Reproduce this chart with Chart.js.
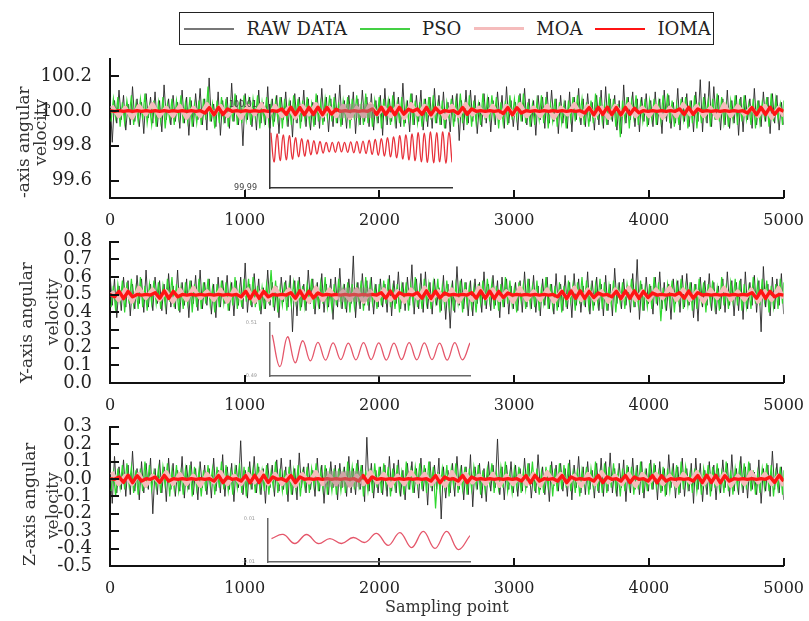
<!DOCTYPE html>
<html>
<head>
<meta charset="utf-8">
<script src="https://cdn.jsdelivr.net/npm/chart.js@4.4.1/dist/chart.umd.min.js"></script>
<style>
  body { margin: 0; background: #fff; width: 809px; height: 621px; position: relative; overflow: hidden; }
  canvas { position: absolute; }
  #legend {
    position: absolute; left: 179px; top: 12px; width: 535px; height: 33px;
    box-sizing: border-box; border: 1.5px solid #222; display: flex; align-items: center;
    padding-left: 4px; font: 18px "DejaVu Serif", serif; color: #222; white-space: nowrap;
  }
  #legend .swatch { display: inline-block; width: 50px; margin-right: 12.5px; flex: none; }
  #legend .name { margin-right: 12.5px; }
</style>
</head>
<body>
<div id="legend"></div>
<canvas id="p1" width="809" height="190" style="left:0;top:38px"></canvas>
<canvas id="p2" width="809" height="192" style="left:0;top:221px"></canvas>
<canvas id="p3" width="809" height="215" style="left:0;top:406px"></canvas>
<canvas id="i1" width="244" height="103" style="left:210px;top:95px"></canvas>
<canvas id="i2" width="262" height="69" style="left:210px;top:315px"></canvas>
<canvas id="i3" width="264" height="59" style="left:208px;top:511px"></canvas>
<script>
// Series names and tick labels
const seriesNames = ['RAW DATA', 'PSO', 'MOA', 'IOMA'];
const xTicks = [0, 1000, 2000, 3000, 4000, 5000];
const yTicks1 = [99.6, 99.8, 100.0, 100.2];
const yTicks2 = [0.0, 0.1, 0.2, 0.3, 0.4, 0.5, 0.6, 0.7, 0.8];
const yTicks3 = [-0.5, -0.4, -0.3, -0.2, -0.1, 0.0, 0.1, 0.2, 0.3];
const sampleMax = 5000;

// X-axis angular velocity
const raw1 = [
  100.08,99.82,100.06,99.93,100.12,99.95,100.09,99.89,100.04,99.92,100.14,99.94,100.07,99.91,100.05,99.87,100.10,99.96,100.08,99.93,
  100.11,99.91,100.06,99.88,100.15,99.95,100.07,99.92,100.09,99.94,100.05,99.90,100.12,99.93,100.08,99.86,100.06,99.91,100.10,99.95,
  100.13,99.92,100.07,99.89,100.19,99.94,100.04,99.91,100.11,99.86,100.06,99.93,100.08,99.90,100.16,99.94,100.09,99.92,100.07,99.80,
  100.10,99.95,100.08,99.91,100.06,99.89,100.12,99.93,100.05,99.92,100.14,99.90,100.07,99.94,100.09,99.87,100.08,99.95,100.11,99.91,
  100.06,99.85,100.10,99.93,100.08,99.94,100.12,99.91,100.07,99.89,100.05,99.92,100.09,99.90,100.13,99.94,100.08,99.88,100.07,99.91,
  100.10,99.93,100.15,99.92,100.06,99.90,100.09,99.95,100.11,99.87,100.07,99.92,100.12,99.94,100.08,99.91,100.10,99.89,100.06,99.93,
  100.09,99.86,100.13,99.92,100.07,99.94,100.11,99.90,100.08,99.91,100.16,99.93,100.06,99.88,100.10,99.92,100.09,99.94,100.12,99.89,
  100.07,99.91,100.08,99.90,100.13,99.93,100.09,99.92,100.11,99.90,100.05,99.88,100.09,99.94,100.10,99.83,100.06,99.89,100.12,99.93,
  100.12,99.94,100.09,99.87,100.05,99.91,100.10,99.93,100.08,99.88,100.06,99.92,100.11,99.95,100.09,99.90,100.14,99.93,100.06,99.91,
  100.05,99.89,100.10,99.94,100.13,99.92,100.07,99.91,100.06,99.86,100.09,99.95,100.08,99.90,100.11,99.93,100.12,99.94,100.07,99.87,
  100.09,99.93,100.06,99.90,100.11,99.88,100.08,99.95,100.13,99.92,100.07,99.91,100.10,99.94,100.05,99.89,100.09,99.92,100.12,99.90,
  100.14,99.92,100.07,99.94,100.09,99.89,100.06,99.87,100.15,99.93,100.08,99.95,100.11,99.91,100.07,99.88,100.08,99.94,100.10,99.92,
  100.06,99.91,100.11,99.92,100.07,99.87,100.12,99.94,100.09,99.90,100.05,99.93,100.13,99.89,100.08,99.94,100.10,99.91,100.06,99.88,
  100.11,99.94,100.18,99.88,100.10,99.93,100.17,99.91,100.14,99.95,100.09,99.89,100.07,99.92,100.12,99.90,100.06,99.93,100.09,99.86,
  100.08,99.88,100.09,99.95,100.07,99.90,100.13,99.92,100.06,99.91,100.11,99.94,100.08,99.87,100.10,99.93,100.09,99.89,100.05,99.92
];
const pso1 = [
  99.94,100.07,99.96,100.08,99.91,100.05,99.93,100.06,99.97,100.09,99.92,100.04,99.94,100.07,99.95,100.10,99.93,100.03,99.92,100.06,
  99.91,100.05,99.94,100.08,99.90,100.04,99.95,100.07,99.92,100.06,99.96,100.09,99.93,100.05,99.94,100.08,99.91,100.04,99.93,100.06,
  99.92,100.07,99.95,100.14,99.94,100.04,99.90,100.06,99.93,100.08,99.95,100.07,99.91,100.05,99.94,100.10,99.92,100.04,99.93,100.09,
  99.95,100.06,99.92,100.07,99.96,100.09,99.90,100.05,99.94,100.08,99.93,100.04,99.91,100.06,99.95,100.08,99.90,100.07,99.94,100.05,
  99.92,100.09,99.96,100.07,99.90,100.06,99.95,100.08,99.93,100.04,99.91,100.10,99.94,100.05,99.92,100.07,99.96,100.09,99.94,100.08,
  99.93,100.05,99.91,100.06,99.96,100.08,99.90,100.07,99.95,100.09,99.94,100.04,99.92,100.10,99.93,100.05,99.91,100.06,99.95,100.08,
  99.90,100.07,99.96,100.06,99.92,100.09,99.94,100.05,99.93,100.08,99.91,100.04,99.95,100.10,99.92,100.06,99.93,100.05,99.91,100.07,
  99.94,100.08,99.95,100.09,99.93,100.04,99.92,100.06,99.90,100.05,99.96,100.07,99.91,100.06,99.95,100.10,99.93,100.04,99.92,100.09,
  99.91,100.06,99.93,100.04,99.92,100.10,99.95,100.07,99.94,100.09,99.96,100.08,99.90,100.05,99.93,100.06,99.92,100.09,99.95,100.07,
  99.96,100.09,99.94,100.10,99.93,100.05,99.91,100.04,99.92,100.06,99.95,100.09,99.93,100.08,99.90,100.04,99.94,100.07,99.91,100.05,
  99.93,100.04,99.90,100.06,99.95,100.08,99.94,100.09,99.96,100.07,99.92,100.05,99.91,100.06,99.93,100.10,99.95,100.08,99.94,100.04,
  99.92,100.10,99.95,100.07,99.91,100.04,99.85,100.06,99.95,100.08,99.90,100.06,99.96,100.09,99.92,100.05,99.94,100.07,99.91,100.06,
  99.95,100.07,99.92,100.05,99.94,100.09,99.96,100.10,99.93,100.06,99.91,100.04,99.92,100.07,99.95,100.08,99.90,100.06,99.93,100.09,
  99.90,100.05,99.93,100.08,99.96,100.06,99.91,100.07,99.95,100.10,99.94,100.08,99.93,100.04,99.91,100.06,99.95,100.09,99.92,100.07,
  99.94,100.09,99.95,100.04,99.92,100.07,99.90,100.06,99.93,100.05,99.96,100.08,99.91,100.10,99.94,100.07,99.95,100.04,99.92,100.06
];
const moa1 = [
  100.03,99.97,100.02,99.96,100.03,99.98,100.04,99.97,100.02,99.97,100.03,99.96,100.02,99.97,100.04,99.98,100.03,99.97,100.02,99.96,
  100.03,99.98,100.04,99.97,100.03,99.97,100.02,99.96,100.03,99.98,100.04,99.97,100.02,99.97,100.03,99.96,100.02,99.97,100.04,99.98,
  100.02,99.97,100.03,99.96,100.04,99.98,100.03,99.97,100.02,99.96,100.03,99.97,100.04,99.98,100.02,99.97,100.03,99.96,100.03,99.98,
  100.04,99.97,100.02,99.97,100.03,99.96,100.02,99.98,100.04,99.97,100.03,99.97,100.02,99.96,100.03,99.98,100.04,99.97,100.02,99.97,
  100.03,99.96,100.02,99.97,100.04,99.98,100.03,99.97,100.02,99.96,100.04,99.97,100.03,99.98,100.02,99.97,100.03,99.96,100.02,99.97
];
const ioma1 = [
  100.002,99.998,100.002,99.998,100.002,99.998,100.002,99.998,100.002,99.998,100.002,99.998,100.002,99.998,100.002,99.998,100.002,99.998,100.002,99.998,100.002,
  99.988,100.02,99.978,100.021,99.98,100.012,
  99.998,100.002,99.998,100.002,99.998,100.002,99.998,100.002,99.998,100.002,99.998,
  100.012,99.98,100.022,99.979,100.02,99.978,100.021,99.98,100.022,99.979,100.02,99.982,100.01,
  99.998,100.002,99.998,100.002,99.998,100.002,99.998,
  100.012,99.98,100.022,99.979,100.02,99.978,100.021,99.982,100.01,
  99.998,
  100.012,99.98,100.021,99.978,100.018,99.99,
  100.002,99.998,100.002,
  99.986,100.02,99.981,100.012,
  99.998,100.002,99.998,100.002,99.998,100.002,
  99.986,100.02,99.978,100.019,99.988,
  100.002,99.998,100.002,99.998,100.002,99.998,100.002,99.998,100.002,99.998,100.002,99.998,100.002,
  99.988,100.02,99.978,100.021,99.98,100.022,99.979,100.02,99.978,100.021,99.981,100.016,99.99,
  100.002,99.998,100.002,99.998,100.002,99.998,100.002,99.998,
  100.012,99.98,100.021,99.981,100.012,
  99.998,100.002,99.998,100.002,99.998,100.002,99.998,100.002,99.998,100.002,
  99.988,100.02,99.978,100.021,99.98,100.022,99.981,100.012,
  99.998
];

// Y-axis angular velocity
const raw2 = [
  0.62,0.44,0.59,0.37,0.55,0.41,0.60,0.43,0.58,0.38,0.56,0.42,0.61,0.45,0.59,0.40,0.64,0.43,0.56,0.41,
  0.60,0.45,0.58,0.41,0.56,0.39,0.62,0.43,0.55,0.42,0.64,0.40,0.57,0.44,0.59,0.37,0.58,0.45,0.61,0.41,
  0.64,0.42,0.57,0.44,0.59,0.39,0.56,0.37,0.60,0.43,0.58,0.45,0.61,0.41,0.57,0.38,0.58,0.44,0.60,0.42,
  0.68,0.40,0.56,0.43,0.62,0.45,0.59,0.39,0.54,0.42,0.64,0.44,0.57,0.41,0.55,0.37,0.60,0.46,0.58,0.43,
  0.61,0.29,0.58,0.38,0.60,0.43,0.56,0.41,0.64,0.45,0.59,0.39,0.57,0.42,0.62,0.40,0.56,0.43,0.59,0.36,
  0.60,0.43,0.65,0.42,0.56,0.40,0.59,0.45,0.72,0.37,0.57,0.42,0.62,0.44,0.58,0.41,0.60,0.39,0.56,0.43,
  0.59,0.43,0.56,0.40,0.61,0.38,0.58,0.45,0.63,0.42,0.57,0.41,0.60,0.44,0.67,0.39,0.59,0.42,0.62,0.40,
  0.63,0.42,0.57,0.39,0.59,0.44,0.54,0.41,0.61,0.36,0.56,0.31,0.58,0.40,0.66,0.44,0.59,0.42,0.57,0.38,
  0.58,0.38,0.59,0.45,0.57,0.40,0.63,0.42,0.56,0.41,0.61,0.44,0.58,0.37,0.60,0.43,0.59,0.39,0.55,0.42,
  0.57,0.41,0.58,0.40,0.63,0.43,0.59,0.42,0.61,0.40,0.55,0.38,0.59,0.44,0.60,0.42,0.56,0.39,0.62,0.43,
  0.56,0.41,0.61,0.42,0.57,0.37,0.62,0.44,0.59,0.40,0.55,0.43,0.63,0.39,0.58,0.44,0.60,0.41,0.56,0.38,
  0.61,0.41,0.56,0.38,0.65,0.45,0.57,0.42,0.59,0.44,0.55,0.40,0.62,0.43,0.70,0.36,0.56,0.41,0.60,0.45,
  0.55,0.39,0.60,0.44,0.63,0.42,0.57,0.41,0.56,0.36,0.59,0.45,0.58,0.40,0.61,0.43,0.62,0.44,0.57,0.37,
  0.56,0.35,0.60,0.43,0.58,0.44,0.62,0.41,0.57,0.39,0.55,0.42,0.59,0.40,0.63,0.44,0.58,0.38,0.57,0.41,
  0.59,0.36,0.63,0.42,0.57,0.44,0.61,0.40,0.58,0.29,0.66,0.43,0.56,0.38,0.60,0.42,0.59,0.44,0.62,0.39
];
const pso2 = [
  0.43,0.55,0.41,0.56,0.46,0.58,0.40,0.57,0.45,0.59,0.44,0.54,0.42,0.60,0.43,0.55,0.41,0.56,0.45,0.58,
  0.45,0.57,0.42,0.55,0.44,0.59,0.46,0.60,0.43,0.56,0.41,0.54,0.42,0.57,0.45,0.58,0.40,0.56,0.43,0.59,
  0.42,0.57,0.45,0.59,0.44,0.54,0.40,0.56,0.43,0.58,0.45,0.57,0.41,0.55,0.44,0.60,0.42,0.54,0.43,0.59,
  0.46,0.59,0.44,0.60,0.43,0.55,0.41,0.54,0.42,0.56,0.45,0.64,0.43,0.58,0.40,0.54,0.44,0.57,0.41,0.55,
  0.44,0.57,0.46,0.58,0.41,0.55,0.43,0.56,0.47,0.59,0.42,0.54,0.44,0.57,0.45,0.60,0.43,0.53,0.42,0.56,
  0.44,0.59,0.45,0.54,0.42,0.57,0.40,0.56,0.43,0.55,0.46,0.58,0.41,0.60,0.44,0.57,0.45,0.54,0.42,0.56,
  0.44,0.58,0.45,0.59,0.43,0.54,0.42,0.56,0.40,0.55,0.46,0.57,0.41,0.56,0.45,0.60,0.43,0.54,0.42,0.59,
  0.45,0.56,0.42,0.57,0.46,0.59,0.40,0.55,0.44,0.58,0.43,0.54,0.41,0.56,0.45,0.58,0.40,0.57,0.44,0.55,
  0.43,0.54,0.40,0.56,0.45,0.58,0.44,0.59,0.46,0.57,0.42,0.55,0.41,0.56,0.43,0.60,0.45,0.58,0.44,0.54,
  0.40,0.57,0.46,0.56,0.42,0.59,0.44,0.55,0.43,0.58,0.41,0.54,0.45,0.60,0.42,0.56,0.43,0.55,0.41,0.57,
  0.40,0.55,0.43,0.58,0.46,0.56,0.41,0.57,0.45,0.60,0.44,0.58,0.43,0.54,0.41,0.56,0.45,0.59,0.42,0.57,
  0.41,0.55,0.44,0.58,0.40,0.54,0.45,0.57,0.42,0.56,0.46,0.59,0.43,0.55,0.44,0.58,0.41,0.54,0.43,0.56,
  0.42,0.60,0.45,0.57,0.35,0.54,0.43,0.56,0.45,0.58,0.40,0.56,0.46,0.59,0.42,0.55,0.44,0.57,0.41,0.56,
  0.42,0.59,0.46,0.57,0.40,0.56,0.45,0.58,0.43,0.54,0.41,0.60,0.44,0.55,0.42,0.57,0.46,0.59,0.44,0.58,
  0.41,0.56,0.43,0.54,0.42,0.60,0.45,0.57,0.44,0.59,0.46,0.58,0.40,0.55,0.43,0.56,0.42,0.59,0.45,0.57
];
const moa2 = [
  0.52,0.47,0.53,0.46,0.54,0.48,0.53,0.47,0.52,0.46,0.53,0.47,0.54,0.48,0.52,0.47,0.53,0.46,0.53,0.48,
  0.53,0.46,0.52,0.47,0.54,0.48,0.53,0.47,0.52,0.46,0.54,0.47,0.53,0.48,0.52,0.47,0.53,0.46,0.52,0.47,
  0.53,0.47,0.52,0.46,0.53,0.48,0.54,0.47,0.52,0.47,0.53,0.46,0.52,0.47,0.54,0.48,0.53,0.47,0.52,0.46,
  0.54,0.47,0.52,0.47,0.53,0.46,0.52,0.48,0.54,0.47,0.53,0.47,0.52,0.46,0.53,0.48,0.54,0.47,0.52,0.47,
  0.53,0.48,0.54,0.47,0.53,0.47,0.52,0.46,0.53,0.48,0.54,0.47,0.52,0.47,0.53,0.46,0.52,0.47,0.54,0.48
];
const ioma2 = [
  0.502,
  0.488,0.52,0.478,0.519,0.488,
  0.502,0.498,0.502,0.498,
  0.512,0.48,0.522,0.479,0.519,0.488,
  0.502,0.498,0.502,0.498,0.502,0.498,0.502,0.498,0.502,0.498,0.502,0.498,0.502,
  0.488,0.52,0.478,0.521,0.48,0.519,0.488,
  0.502,0.498,0.502,0.498,
  0.512,0.48,0.522,0.479,0.52,0.482,0.51,
  0.498,0.502,0.498,0.502,0.498,0.502,0.498,0.502,0.498,0.502,0.498,0.502,0.498,
  0.512,0.48,0.521,0.481,0.512,
  0.498,0.502,0.498,
  0.512,0.48,0.522,0.479,0.52,0.482,0.51,
  0.498,0.502,0.498,0.502,0.498,
  0.512,0.48,0.522,0.479,0.52,0.478,0.519,0.484,0.51,
  0.498,0.502,0.498,0.502,0.498,0.502,0.498,0.502,0.498,0.502,
  0.488,0.52,0.478,0.521,0.48,0.522,0.479,0.519,0.484,0.51,
  0.498,0.502,
  0.488,0.52,0.478,0.521,0.48,0.522,0.479,0.519,0.484,0.51,
  0.498,0.502,0.498,0.502,0.498,
  0.512,0.48,0.521,0.481,0.512,
  0.498,0.502,0.498,0.502,0.498,0.502,0.498,0.502,0.498,0.502,0.498,
  0.512,0.48,0.522,0.479,0.519,0.488,
  0.502,0.498
];

// Z-axis angular velocity
const raw3 = [
  0.09,-0.14,0.13,-0.08,0.07,-0.06,0.11,-0.10,0.08,-0.09,0.16,-0.07,0.06,-0.12,0.10,-0.08,0.09,-0.06,0.12,-0.20,
  0.06,-0.09,0.11,-0.08,0.07,-0.13,0.12,-0.06,0.09,-0.10,0.05,-0.07,0.13,-0.11,0.08,-0.06,0.10,-0.09,0.06,-0.12,
  0.10,-0.05,0.08,-0.09,0.06,-0.11,0.12,-0.07,0.05,-0.08,0.14,-0.10,0.07,-0.06,0.09,-0.13,0.08,-0.05,0.22,-0.09,
  0.05,-0.11,0.10,-0.06,0.13,-0.08,0.07,-0.09,0.06,-0.14,0.09,-0.05,0.08,-0.10,0.11,-0.07,0.12,-0.06,0.07,-0.13,
  0.11,-0.09,0.06,-0.12,0.15,-0.05,0.07,-0.08,0.09,-0.06,0.05,-0.10,0.12,-0.07,0.08,-0.14,0.06,-0.09,0.10,-0.05,
  0.08,-0.12,0.09,-0.05,0.07,-0.10,0.13,-0.08,0.06,-0.09,0.11,-0.06,0.08,-0.13,0.24,-0.07,0.09,-0.11,0.05,-0.08,
  0.07,-0.09,0.08,-0.10,0.13,-0.07,0.09,-0.08,0.11,-0.10,0.05,-0.12,0.09,-0.06,0.10,-0.08,0.06,-0.11,0.12,-0.07,
  0.06,-0.15,0.10,-0.07,0.08,-0.06,0.12,-0.23,0.07,-0.11,0.05,-0.08,0.09,-0.10,0.13,-0.06,0.08,-0.12,0.07,-0.09,
  0.14,-0.16,0.07,-0.06,0.09,-0.11,0.06,-0.13,0.10,-0.07,0.08,-0.05,0.23,-0.09,0.07,-0.12,0.08,-0.06,0.10,-0.08,
  0.08,-0.10,0.06,-0.07,0.12,-0.05,0.09,-0.11,0.04,-0.08,0.14,-0.06,0.07,-0.09,0.05,-0.13,0.10,-0.04,0.08,-0.07,
  0.09,-0.07,0.06,-0.10,0.11,-0.12,0.08,-0.05,0.13,-0.08,0.07,-0.09,0.10,-0.06,0.05,-0.11,0.09,-0.08,0.12,-0.10,
  0.10,-0.07,0.15,-0.08,0.06,-0.10,0.09,-0.05,0.11,-0.13,0.07,-0.08,0.12,-0.06,0.08,-0.09,0.10,-0.11,0.06,-0.07,
  0.11,-0.06,0.08,-0.12,0.10,-0.07,0.06,-0.09,0.14,-0.05,0.09,-0.11,0.07,-0.08,0.12,-0.10,0.06,-0.07,0.09,-0.14,
  0.12,-0.06,0.09,-0.13,0.05,-0.09,0.10,-0.07,0.08,-0.12,0.06,-0.08,0.11,-0.05,0.09,-0.10,0.14,-0.07,0.06,-0.09,
  0.13,-0.08,0.07,-0.11,0.09,-0.06,0.04,-0.09,0.11,-0.14,0.06,-0.07,0.08,-0.10,0.16,-0.06,0.09,-0.08,0.07,-0.12
];
const pso3 = [
  -0.07,0.04,-0.10,0.06,-0.05,0.08,-0.06,0.09,-0.04,0.07,-0.08,0.05,-0.09,0.06,-0.07,0.10,-0.05,0.08,-0.06,0.04,
  -0.05,0.06,-0.08,0.07,-0.04,0.09,-0.10,0.05,-0.06,0.08,-0.07,0.04,-0.09,0.06,-0.05,0.08,-0.10,0.07,-0.06,0.05,
  -0.10,0.05,-0.07,0.08,-0.04,0.06,-0.09,0.07,-0.05,0.10,-0.06,0.08,-0.07,0.04,-0.09,0.06,-0.05,0.09,-0.08,0.07,
  -0.10,0.07,-0.04,0.06,-0.08,0.09,-0.06,0.05,-0.07,0.08,-0.09,0.04,-0.05,0.10,-0.08,0.06,-0.07,0.05,-0.09,0.07,
  -0.09,0.05,-0.06,0.08,-0.10,0.04,-0.05,0.07,-0.08,0.06,-0.04,0.09,-0.07,0.05,-0.06,0.08,-0.09,0.04,-0.07,0.06,
  -0.09,0.06,-0.07,0.04,-0.08,0.10,-0.05,0.07,-0.06,0.09,-0.04,0.08,-0.10,0.05,-0.07,0.06,-0.08,0.09,-0.05,0.07,
  -0.08,0.09,-0.04,0.07,-0.10,0.06,-0.05,0.08,-0.07,0.04,-0.09,0.10,-0.06,0.05,-0.08,0.07,-0.04,0.09,-0.06,0.08,
  -0.08,0.10,-0.05,0.07,-0.17,0.04,-0.07,0.06,-0.05,0.08,-0.10,0.06,-0.04,0.09,-0.08,0.05,-0.06,0.07,-0.09,0.06,
  -0.06,0.07,-0.04,0.08,-0.09,0.05,-0.07,0.06,-0.03,0.09,-0.08,0.04,-0.06,0.07,-0.05,0.10,-0.07,0.03,-0.08,0.06,
  -0.05,0.07,-0.08,0.05,-0.06,0.09,-0.04,0.10,-0.07,0.06,-0.09,0.04,-0.08,0.07,-0.05,0.08,-0.10,0.06,-0.07,0.09,
  -0.06,0.08,-0.05,0.09,-0.07,0.04,-0.08,0.06,-0.10,0.05,-0.04,0.07,-0.09,0.06,-0.05,0.10,-0.07,0.04,-0.08,0.09,
  -0.08,0.07,-0.05,0.09,-0.06,0.04,-0.10,0.06,-0.07,0.08,-0.05,0.07,-0.09,0.05,-0.06,0.10,-0.08,0.04,-0.07,0.09,
  -0.06,0.09,-0.05,0.04,-0.08,0.07,-0.10,0.06,-0.07,0.05,-0.04,0.08,-0.09,0.10,-0.06,0.07,-0.05,0.04,-0.08,0.06,
  -0.07,0.05,-0.09,0.06,-0.04,0.08,-0.10,0.07,-0.05,0.09,-0.06,0.04,-0.08,0.10,-0.07,0.05,-0.09,0.06,-0.05,0.08,
  -0.04,0.09,-0.06,0.10,-0.07,0.05,-0.09,0.04,-0.08,0.06,-0.05,0.09,-0.07,0.08,-0.10,0.04,-0.06,0.07,-0.09,0.05
];
const moa3 = [
  0.04,-0.03,0.02,-0.03,0.03,-0.04,0.02,-0.02,0.04,-0.03,0.03,-0.03,0.02,-0.04,0.03,-0.02,0.04,-0.03,0.02,-0.03,
  0.03,-0.02,0.04,-0.03,0.03,-0.03,0.02,-0.04,0.03,-0.02,0.04,-0.03,0.02,-0.03,0.03,-0.04,0.02,-0.03,0.04,-0.02,
  0.03,-0.04,0.02,-0.03,0.04,-0.02,0.03,-0.03,0.02,-0.04,0.04,-0.03,0.03,-0.02,0.02,-0.03,0.03,-0.04,0.02,-0.03,
  0.02,-0.03,0.03,-0.04,0.04,-0.02,0.03,-0.03,0.02,-0.04,0.03,-0.03,0.04,-0.02,0.02,-0.03,0.03,-0.04,0.03,-0.02,
  0.03,-0.03,0.02,-0.04,0.03,-0.02,0.04,-0.03,0.02,-0.03,0.03,-0.04,0.02,-0.03,0.04,-0.02,0.03,-0.03,0.02,-0.04
];
const ioma3 = [
  0.002,-0.002,
  0.012,-0.02,0.022,-0.021,0.019,-0.012,
  0.002,-0.002,
  0.012,-0.02,0.021,-0.012,
  0.002,-0.002,0.002,-0.002,0.002,-0.002,0.002,-0.002,0.002,
  -0.012,0.02,-0.021,0.012,
  -0.002,0.002,
  -0.012,0.02,-0.022,0.021,-0.02,0.022,-0.019,0.012,
  -0.002,0.002,
  -0.012,0.02,-0.021,0.012,
  -0.002,0.002,-0.002,0.002,-0.002,0.002,-0.002,0.002,-0.002,0.002,-0.002,0.002,
  -0.012,0.02,-0.021,0.012,
  -0.002,0.002,-0.002,0.002,-0.002,0.002,-0.002,0.002,-0.002,0.002,-0.002,0.002,
  -0.012,0.02,-0.022,0.012,
  -0.002,0.002,
  -0.012,0.02,-0.021,0.012,
  -0.002,0.002,-0.002,0.002,-0.002,0.002,-0.002,0.002,-0.002,0.002,
  -0.012,0.02,-0.022,0.021,-0.012,
  0.002,-0.002,0.002,
  -0.012,0.02,-0.021,0.012,
  -0.002,0.002,-0.002,0.002,
  -0.012,0.02,-0.021,0.012,
  -0.002,0.002,
  -0.012,0.02,-0.021,0.012,
  -0.002,0.002,
  -0.012,0.02,-0.022,0.019,-0.012,
  0.002,-0.002,0.002,-0.002,0.002,
  -0.012,0.02,-0.021,0.022,-0.02,0.021,-0.022,0.019,-0.012,
  0.002,-0.002,0.002,-0.002,0.002,-0.002,0.002,-0.002,
  0.012,-0.02,0.021,-0.012
];

// Zoomed regions: [x from, x to, y from, y to]
const zoomBox1 = [1700, 1960, 99.96, 100.04];
const zoomBox2 = [1690, 1940, 0.46, 0.54];
const zoomBox3 = [1590, 1870, -0.045, 0.045];

// Inset curves (IOMA, magnified) and their axis labels
const inset1 = [
  100.0033,99.9963,100.0030,99.9966,100.0028,99.9968,100.0026,99.9970,100.0021,99.9975,
  100.0019,99.9977,100.0016,99.9980,100.0014,99.9982,100.0012,99.9984,100.0010,99.9987,
  100.0010,99.9986,100.0011,99.9987,100.0010,99.9986,100.0011,99.9985,100.0012,99.9984,
  100.0013,99.9983,100.0015,99.9981,100.0017,99.9979,100.0019,99.9977,100.0021,99.9975,
  100.0023,99.9973,100.0026,99.9970,100.0028,99.9968,100.0030,99.9966,100.0033,99.9963,
  100.0032,99.9962,100.0035,99.9961,100.0033,99.9963,100.0035,99.9960,100.0034,99.9962
];
const inset1Range = [99.99, 100.01];
const inset1Labels = ['99.99', '100.01'];
const inset2 = [
  0.5055,0.4935,0.5048,0.4950,0.5033,0.4957,0.5027,0.4960,0.5025,0.4962,0.5024,0.4961,0.5026,0.4962,
  0.5025,0.4960,0.5024,0.4962,0.5026,0.4961,0.5025,0.4962,0.5024,0.4960,0.5026,0.4961,0.5025
];
const inset2Range = [0.49, 0.51];
const inset2Labels = ['0.49', '0.51'];
const inset3 = [
  0.0009,0.0028,-0.0014,0.0028,-0.0014,0.0009,-0.0014,0.0014,-0.0009,
  0.0033,-0.0023,0.0037,-0.0033,0.0042,-0.0037,0.0042,-0.0042,0.0023
];
const inset3Range = [-0.01, 0.01];
const inset3Labels = ['-0.01', '0.01'];

// Styling
const COLORS = {
  'RAW DATA': 'rgba(40,40,40,0.9)',
  'PSO': '#2fd82f',
  'MOA': '#f5bcbc',
  'IOMA': '#ff1414'
};
const WIDTHS = { 'RAW DATA': 1, 'PSO': 1.2, 'MOA': 4, 'IOMA': 3.4 };
const ORDER = { 'RAW DATA': 4, 'PSO': 3, 'MOA': 2, 'IOMA': 1 };
// sampling grid shift (in steps) so the zigzags of the series interleave
const SHIFT = { 'RAW DATA': 0, 'PSO': 0.5, 'MOA': 0.25, 'IOMA': 0 };

Chart.defaults.font.family = '"DejaVu Serif", serif';
Chart.defaults.color = '#222';

// Legend (HTML box)
const legendEl = document.getElementById('legend');
seriesNames.forEach(name => {
  const sw = document.createElement('span');
  sw.className = 'swatch';
  sw.style.height = name === 'MOA' ? '3px' : '2px';
  sw.style.background = name === 'RAW DATA' ? '#777' : name === 'PSO' ? '#44d044' : COLORS[name];
  const tx = document.createElement('span');
  tx.className = 'name';
  tx.textContent = name;
  legendEl.appendChild(sw);
  legendEl.appendChild(tx);
});

// Inward tick marks
const innerTicks = {
  id: 'innerTicks',
  afterDraw(chart) {
    const { ctx, chartArea: a, scales: { x, y } } = chart;
    ctx.save();
    ctx.strokeStyle = '#111';
    ctx.lineWidth = 2;
    ctx.beginPath();
    x.ticks.forEach(t => {
      const px = Math.round(x.getPixelForValue(t.value));
      ctx.moveTo(px, a.bottom);
      ctx.lineTo(px, a.bottom - 8);
    });
    y.ticks.forEach(t => {
      const py = Math.round(y.getPixelForValue(t.value));
      ctx.moveTo(a.left, py);
      ctx.lineTo(a.left + 9, py);
    });
    ctx.stroke();
    ctx.restore();
  }
};

// Grey marker of the zoomed region
const zoomBox = {
  id: 'zoomBox',
  afterDatasetsDraw(chart, args, opts) {
    const b = opts.box;
    if (!b) return;
    const { ctx, scales: { x, y } } = chart;
    const x0 = x.getPixelForValue(b[0]), x1 = x.getPixelForValue(b[1]);
    const y0 = y.getPixelForValue(b[3]), y1 = y.getPixelForValue(b[2]);
    ctx.save();
    ctx.fillStyle = 'rgba(160,140,140,0.45)';
    ctx.fillRect(x0, y0, x1 - x0, y1 - y0);
    ctx.restore();
  }
};

function series(name, values) {
  const step = sampleMax / (values.length - 1);
  return {
    label: name,
    data: values.map((v, i) => ({ x: Math.min(sampleMax, (i + SHIFT[name]) * step), y: v })),
    borderColor: COLORS[name],
    borderWidth: WIDTHS[name],
    borderJoinStyle: name === 'RAW DATA' || name === 'PSO' ? 'miter' : 'round',
    pointRadius: 0,
    tension: 0,
    fill: false,
    order: ORDER[name]
  };
}

function makePanel(id, cfg) {
  return new Chart(document.getElementById(id), {
    type: 'line',
    data: {
      datasets: [
        series('RAW DATA', cfg.raw),
        series('PSO', cfg.pso),
        series('MOA', cfg.moa),
        series('IOMA', cfg.ioma)
      ]
    },
    options: {
      responsive: false,
      animation: false,
      devicePixelRatio: 1,
      layout: { padding: { top: 12, right: 23, bottom: 0, left: 0 } },
      plugins: {
        legend: { display: false },
        tooltip: { enabled: false },
        zoomBox: { box: cfg.box }
      },
      scales: {
        x: {
          type: 'linear',
          min: 0,
          max: sampleMax,
          afterBuildTicks: s => { s.ticks = xTicks.map(v => ({ value: v })); },
          afterFit: s => { s.height = cfg.xHeight; },
          grid: { display: false },
          border: { display: true, color: '#111', width: 2 },
          ticks: { font: { size: 16 }, color: '#222', padding: 5, maxRotation: 0, autoSkip: false, callback: v => String(v) },
          title: cfg.xTitle
            ? { display: true, text: cfg.xTitle, color: '#333', font: { size: 16 }, padding: { top: 0, bottom: 4 } }
            : { display: false }
        },
        y: {
          min: cfg.yMin,
          max: cfg.yMax,
          afterBuildTicks: s => { s.ticks = cfg.yTicks.map(v => ({ value: v })); },
          afterFit: s => { s.width = 110; },
          grid: { display: false },
          border: { display: true, color: '#111', width: 2 },
          ticks: { font: { size: 18 }, color: '#222', padding: 10, autoSkip: false, callback: v => v.toFixed(1) },
          title: {
            display: true,
            text: cfg.yTitle,
            align: 'start',
            color: '#333',
            font: { size: 17, lineHeight: cfg.titleLh },
            padding: { top: cfg.titlePad, bottom: 0 }
          }
        }
      }
    },
    plugins: [innerTicks, zoomBox]
  });
}

function makeInset(id, values, range, labels, color, axisColor, labelSize, labelColor) {
  return new Chart(document.getElementById(id), {
    type: 'line',
    data: {
      datasets: [{
        data: values.map((v, i) => ({ x: i, y: v })),
        borderColor: color,
        borderWidth: 1.3,
        pointRadius: 0,
        tension: 0.4,
        fill: false
      }]
    },
    options: {
      responsive: false,
      animation: false,
      devicePixelRatio: 1,
      layout: { padding: { top: 8, right: 2, bottom: 0, left: 0 } },
      plugins: { legend: { display: false }, tooltip: { enabled: false } },
      scales: {
        x: {
          type: 'linear',
          min: -0.3,
          max: values.length - 1,
          ticks: { display: false },
          grid: { display: false },
          border: { display: true, color: axisColor, width: 1.5 },
          afterFit: s => { s.height = 8; }
        },
        y: {
          min: range[0],
          max: range[1],
          afterBuildTicks: s => { s.ticks = range.map(v => ({ value: v })); },
          afterFit: s => { s.width = 60; },
          grid: { display: false },
          border: { display: true, color: axisColor, width: 1.5 },
          ticks: { font: { size: labelSize, family: '"DejaVu Sans", sans-serif' }, color: labelColor, padding: 5, autoSkip: false, callback: (v, i) => labels[i] }
        }
      }
    }
  });
}

makePanel('p1', {
  raw: raw1, pso: pso1, moa: moa1, ioma: ioma1, box: zoomBox1,
  yMin: 99.5, yMax: 100.3, yTicks: yTicks1,
  yTitle: ['-axis angular', '      velocity'], titleLh: 0.95, titlePad: 17, xHeight: 30
});
makePanel('p2', {
  raw: raw2, pso: pso2, moa: moa2, ioma: ioma2, box: zoomBox2,
  yMin: 0, yMax: 0.8, yTicks: yTicks2,
  yTitle: ['Y-axis angular', '       velocity'], titleLh: 1.5, titlePad: 15, xHeight: 30
});
makePanel('p3', {
  raw: raw3, pso: pso3, moa: moa3, ioma: ioma3, box: zoomBox3,
  yMin: -0.5, yMax: 0.3, yTicks: yTicks3,
  yTitle: ['Z-axis angular', '     velocity'], titleLh: 1.3, titlePad: 20, xHeight: 55,
  xTitle: 'Sampling point'
});

makeInset('i1', inset1, inset1Range, inset1Labels, '#e8313a', '#333', 8, '#444');
makeInset('i2', inset2, inset2Range, inset2Labels, '#e5566a', '#666', 5, '#999');
makeInset('i3', inset3, inset3Range, inset3Labels, '#e5566a', '#666', 5, '#999');
</script>
</body>
</html>
